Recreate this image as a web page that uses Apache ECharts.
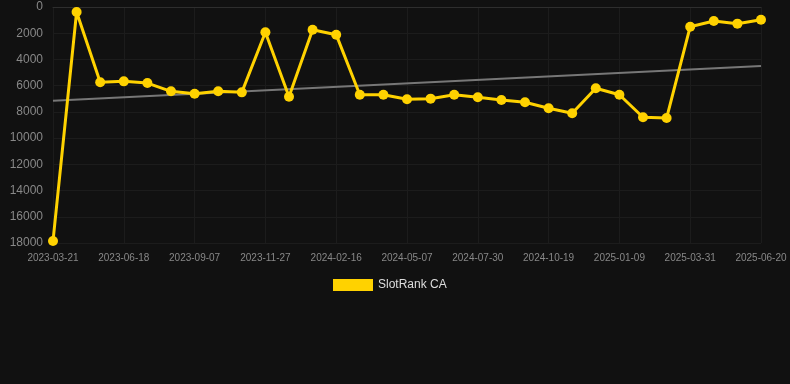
<!DOCTYPE html>
<html>
<head>
<meta charset="utf-8">
<script src="https://cdn.jsdelivr.net/npm/echarts@6/dist/echarts.min.js"></script>
<style>html,body{margin:0;padding:0;background:#111111;}#c{width:790px;height:384px;}</style>
</head>
<body>
<div id="c"></div>
<script>
var categories = ['2023-03-21','2023-04-20','2023-05-19','2023-06-18','2023-07-15','2023-08-11','2023-09-07','2023-10-04','2023-10-31','2023-11-27','2023-12-24','2024-01-20','2024-02-16','2024-03-14','2024-04-10','2024-05-07','2024-06-03','2024-07-01','2024-07-30','2024-08-26','2024-09-22','2024-10-19','2024-11-15','2024-12-13','2025-01-09','2025-02-05','2025-03-04','2025-03-31','2025-04-27','2025-05-24','2025-06-20'];
var rankValues = [17850,380,5740,5670,5800,6430,6610,6430,6510,1930,6840,1730,2110,6690,6690,7040,6990,6690,6890,7090,7270,7720,8110,6200,6690,8410,8470,1500,1070,1270,970];
var trendValues = [7150,null,null,null,null,null,null,null,null,null,null,null,null,null,null,null,null,null,null,null,null,null,null,null,null,null,null,null,null,null,4500];
var yTicks = {min:0, max:18000, interval:2000};
var seriesName = 'SlotRank CA';

var chart = echarts.init(document.getElementById('c'), null, {renderer:'canvas'});
chart.setOption({
  backgroundColor:'#111111',
  animation:false,
  grid:{left:53, right:29, top:7, bottom:141, containLabel:false},
  legend:{
    data:[seriesName], top:274, left:328,
    itemWidth:40, itemHeight:12, icon:'rect', itemGap:10,
    textStyle:{color:'#dddddd', fontSize:12, fontFamily:'Arial, Liberation Sans, sans-serif'}
  },
  xAxis:{
    type:'category', data:categories, boundaryGap:false,
    axisLine:{show:true, lineStyle:{color:'#2e2e2e'}},
    axisTick:{show:false},
    axisLabel:{interval:2, color:'#888888', fontSize:10, margin:10, fontFamily:'Arial, Liberation Sans, sans-serif'},
    splitLine:{show:true, interval:2, lineStyle:{color:'#1c1c1c'}}
  },
  yAxis:{
    type:'value', inverse:true, min:yTicks.min, max:yTicks.max, interval:yTicks.interval,
    axisLine:{show:false}, axisTick:{show:false},
    axisLabel:{color:'#888888', fontSize:12, margin:10, fontFamily:'Arial, Liberation Sans, sans-serif',
      formatter:function(v){return String(v);}},
    splitLine:{lineStyle:{color:'#1c1c1c'}}
  },
  series:[
    {
      name:seriesName, type:'line', data:rankValues,
      symbol:'circle', symbolSize:10,
      itemStyle:{color:'#ffd200'},
      lineStyle:{color:'#ffd200', width:3},
      z:3
    },
    {
      name:'trend', type:'line', data:trendValues, connectNulls:true,
      symbol:'none', lineStyle:{color:'#777777', width:2},
      itemStyle:{color:'#777777'}, z:2, silent:true
    }
  ]
});
</script>
</body>
</html>
